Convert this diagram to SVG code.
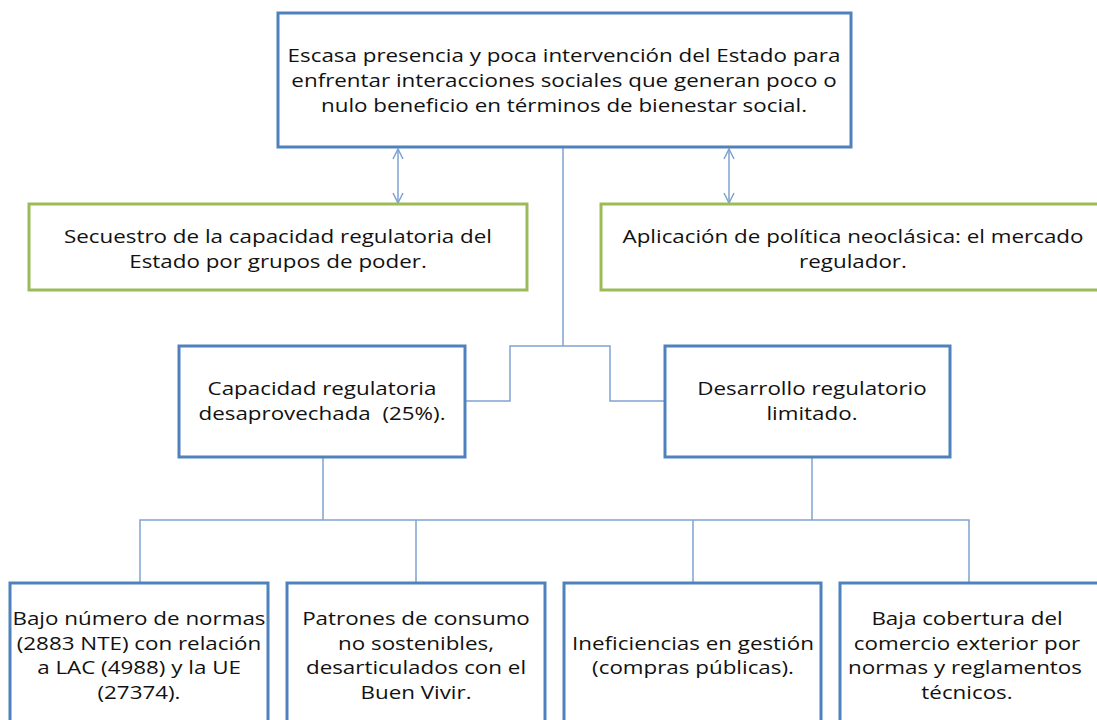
<svg xmlns="http://www.w3.org/2000/svg" width="1097" height="720" viewBox="0 0 1097 720">
<defs>
<style>
.blue{fill:#fff;stroke:#4F81BD;stroke-width:3}
.green{fill:#fff;stroke:#9BBB59;stroke-width:3}
.t{font-family:"Open Sans","Liberation Sans",sans-serif;font-size:18.5px;fill:#111;text-anchor:middle}
.c{fill:none;stroke:#7FA2D2;stroke-width:1.5}
.a{fill:none;stroke:#7FA2D2;stroke-width:1.5}
</style>
<marker id="ah" viewBox="0 0 12 12" refX="11" refY="6" markerWidth="12" markerHeight="12" markerUnits="userSpaceOnUse" orient="auto-start-reverse">
<path d="M1,1 L11,6 L1,11" fill="none" stroke="#7FA2D2" stroke-width="1.5"/>
</marker>
</defs>
<rect width="1097" height="720" fill="#fff"/>
<g id="connectors">
<line class="a" x1="398" y1="149" x2="398" y2="203" marker-start="url(#ah)" marker-end="url(#ah)"/>
<line class="a" x1="729" y1="149" x2="729" y2="203" marker-start="url(#ah)" marker-end="url(#ah)"/>
<polyline class="c" points="563,148 563,346"/>
<polyline class="c" points="465,401 510,401 510,346 610,346 610,401 665,401"/>
<polyline class="c" points="323,458 323,520"/>
<polyline class="c" points="812,458 812,520"/>
<polyline class="c" points="140,583 140,520 969,520 969,583"/>
<line class="c" x1="416" y1="520" x2="416" y2="583"/>
<line class="c" x1="693" y1="520" x2="693" y2="583"/>
</g>
<g id="n-top">
<rect class="blue" x="278" y="13" width="573" height="134"/>
<text class="t" transform="translate(564,62) scale(1.21,1)">Escasa presencia y poca intervención del Estado para</text>
<text class="t" transform="translate(564,87) scale(1.21,1)">enfrentar interacciones sociales que generan poco o</text>
<text class="t" transform="translate(564,112) scale(1.21,1)">nulo beneficio en términos de bienestar social.</text>
</g>
<g id="n-secuestro">
<rect class="green" x="29" y="204" width="498" height="86"/>
<text class="t" transform="translate(278,243) scale(1.21,1)">Secuestro de la capacidad regulatoria del</text>
<text class="t" transform="translate(278,268) scale(1.21,1)">Estado por grupos de poder.</text>
</g>
<g id="n-aplicacion">
<rect class="green" x="601" y="204" width="510" height="86"/>
<text class="t" transform="translate(853,243) scale(1.21,1)">Aplicación de política neoclásica: el mercado</text>
<text class="t" transform="translate(853,268) scale(1.21,1)">regulador.</text>
</g>
<g id="n-capacidad">
<rect class="blue" x="179" y="346" width="286" height="111"/>
<text class="t" transform="translate(322,395) scale(1.21,1)">Capacidad regulatoria</text>
<text class="t" transform="translate(322,420) scale(1.21,1)" xml:space="preserve">desaprovechada  (25%).</text>
</g>
<g id="n-desarrollo">
<rect class="blue" x="665" y="346" width="285" height="111"/>
<text class="t" transform="translate(812,395) scale(1.21,1)">Desarrollo regulatorio</text>
<text class="t" transform="translate(812,420) scale(1.21,1)">limitado.</text>
</g>
<g id="n-bajo">
<rect class="blue" x="10" y="583" width="258" height="150"/>
<text class="t" transform="translate(139,625) scale(1.21,1)">Bajo número de normas</text>
<text class="t" transform="translate(139,650) scale(1.21,1)">(2883 NTE) con relación</text>
<text class="t" transform="translate(139,674) scale(1.21,1)">a LAC (4988) y la UE</text>
<text class="t" transform="translate(139,699) scale(1.21,1)">(27374).</text>
</g>
<g id="n-patrones">
<rect class="blue" x="287" y="583" width="258" height="150"/>
<text class="t" transform="translate(416,625) scale(1.21,1)">Patrones de consumo</text>
<text class="t" transform="translate(416,650) scale(1.21,1)">no sostenibles,</text>
<text class="t" transform="translate(416,674) scale(1.21,1)">desarticulados con el</text>
<text class="t" transform="translate(416,699) scale(1.21,1)">Buen Vivir.</text>
</g>
<g id="n-ineficiencias">
<rect class="blue" x="564" y="583" width="257" height="150"/>
<text class="t" transform="translate(693,650) scale(1.21,1)">Ineficiencias en gestión</text>
<text class="t" transform="translate(693,674) scale(1.21,1)">(compras públicas).</text>
</g>
<g id="n-baja">
<rect class="blue" x="840" y="583" width="270" height="150"/>
<text class="t" transform="translate(967,625) scale(1.21,1)">Baja cobertura del</text>
<text class="t" transform="translate(967,650) scale(1.21,1)">comercio exterior por</text>
<text class="t" transform="translate(965,674) scale(1.21,1)">normas y reglamentos</text>
<text class="t" transform="translate(967,699) scale(1.21,1)">técnicos.</text>
</g>
</svg>
